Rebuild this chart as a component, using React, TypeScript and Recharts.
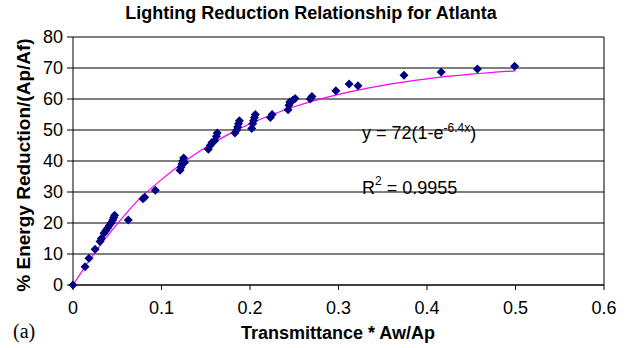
import { ScatterChart, Scatter, XAxis, YAxis, CartesianGrid, ReferenceLine } from 'recharts';

// measured points (Transmittance * Aw/Ap, % energy reduction)
const xs = [
  0, 0.0136, 0.018, 0.025, 0.0305, 0.032, 0.035, 0.037, 0.039, 0.041, 0.043, 0.045, 0.046, 0.047,
  0.0625, 0.079, 0.081, 0.093,
  0.121, 0.122, 0.123, 0.124, 0.125, 0.126,
  0.153, 0.155, 0.157, 0.16, 0.162, 0.163,
  0.183, 0.185, 0.186, 0.187, 0.188,
  0.202, 0.203, 0.204, 0.205, 0.206,
  0.223, 0.225,
  0.243, 0.244, 0.245, 0.248, 0.251,
  0.268, 0.27,
  0.297, 0.312, 0.322, 0.374, 0.416, 0.457, 0.499,
];
const ys = [
  0, 5.9, 8.6, 11.5, 14.0, 15.0, 16.7, 17.5, 18.3, 19.2, 20.0, 21.0, 21.8, 22.5,
  21.0, 27.8, 28.3, 30.6,
  37.0, 38.0, 39.0, 40.0, 41.0, 39.5,
  43.8, 45.0, 46.0, 46.5, 48.0, 49.0,
  49.0, 50.0, 51.0, 52.0, 53.0,
  50.5, 52.0, 53.0, 54.0, 55.0,
  54.0, 55.0,
  56.5, 58.0, 59.0, 59.5, 60.2,
  60.0, 60.8,
  62.7, 64.8, 64.3, 67.7, 68.7, 69.7, 70.6,
];

// trendline
const curveX = [0, 0.025, 0.05, 0.075, 0.1, 0.125, 0.15, 0.175, 0.2, 0.25, 0.3, 0.35, 0.4, 0.45, 0.5];
const curveY = [0, 10.6, 19.7, 27.8, 34.0, 39.6, 44.4, 48.5, 52.0, 57.5, 61.5, 64.4, 66.5, 68.0, 69.1];

const xTicks = [0, 0.1, 0.2, 0.3, 0.4, 0.5, 0.6];
const yTicks = [0, 10, 20, 30, 40, 50, 60, 70, 80];

const points = xs.map((x, i) => ({ x, y: ys[i] }));
const curve = curveX.map((x, i) => ({ x, y: curveY[i] }));

const font = '"Liberation Sans", Arial, sans-serif';

const Diamond = (props: any) => {
  const { cx, cy } = props;
  if (cx == null || cy == null) return null;
  const r = 4.5;
  return (
    <polygon
      points={`${cx},${cy - r} ${cx + r},${cy} ${cx},${cy + r} ${cx - r},${cy}`}
      fill="#000080"
    />
  );
};

export default function App() {
  return (
    <div style={{ position: 'absolute', left: 0, top: 0, width: 627, height: 348, background: '#fff', fontFamily: font }}>
      <ScatterChart width={627} height={348} margin={{ top: 37, right: 23, bottom: 0, left: 0 }}>
        <CartesianGrid horizontal vertical={false} stroke="#000" strokeWidth={1} />
        <XAxis
          type="number"
          dataKey="x"
          domain={[0, 0.6]}
          ticks={xTicks}
          height={63}
          stroke="#000"
          tickSize={5}
          tickMargin={11}
          tick={{ fill: '#000', fontSize: 18, fontFamily: font }}
        />
        <YAxis
          type="number"
          dataKey="y"
          domain={[0, 80]}
          ticks={yTicks}
          width={73}
          stroke="#000"
          tickSize={6}
          tickMargin={4}
          tick={{ fill: '#000', fontSize: 18, fontFamily: font }}
        />
        <ReferenceLine x={0.6} stroke="#000" />
        <Scatter
          data={curve}
          line={{ stroke: '#ff00ff', strokeWidth: 1.2 }}
          lineJointType="monotoneX"
          shape={() => null}
          isAnimationActive={false}
        />
        <Scatter data={points} shape={Diamond} isAnimationActive={false} />
      </ScatterChart>

      <svg width={627} height={348} style={{ position: 'absolute', left: 0, top: 0, pointerEvents: 'none' }}>
        <g fontFamily={font} fill="#000">
          <text x={311} y={19} textAnchor="middle" fontSize={18} fontWeight="bold">
            Lighting Reduction Relationship for Atlanta
          </text>
          <text x={338} y={339} textAnchor="middle" fontSize={18} fontWeight="bold">
            Transmittance * Aw/Ap
          </text>
          <text transform="translate(30,165) rotate(-90)" textAnchor="middle" fontSize={19} fontWeight="bold">
            % Energy Reduction/(Ap/Af)
          </text>
          <text x={362} y={138.5} fontSize={18}>
            y = 72(1-e<tspan fontSize={12} dy={-7}>-6.4x</tspan><tspan dy={7}>)</tspan>
          </text>
          <text x={362} y={194} fontSize={18}>
            R<tspan fontSize={12} dy={-9}>2</tspan><tspan dy={9}> = 0.9955</tspan>
          </text>
        </g>
        <text x={13} y={338} fontSize={20} fontFamily='"Liberation Serif", "Times New Roman", serif'>
          (a)
        </text>
      </svg>
    </div>
  );
}
